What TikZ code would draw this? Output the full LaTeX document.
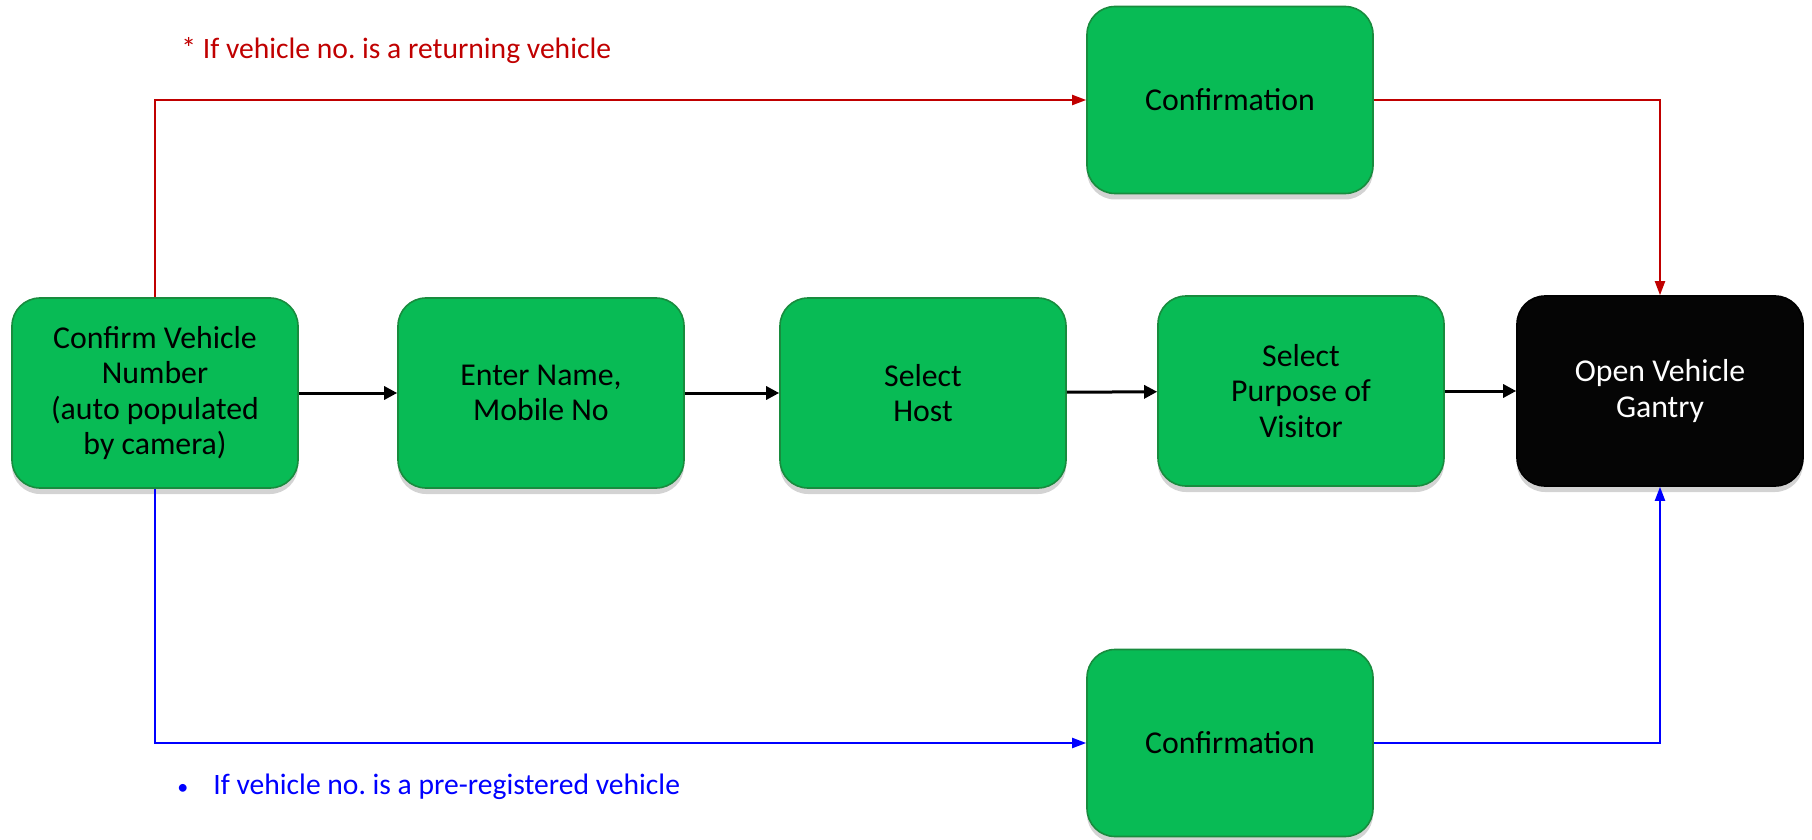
\documentclass[tikz,border=0pt]{standalone}
\usepackage{fontspec}
\setmainfont{Carlito}
\frenchspacing
\usetikzlibrary{arrows.meta,shadows}
\definecolor{boxgreen}{RGB}{8,187,85}
\definecolor{boxedge}{RGB}{24,140,62}
\definecolor{retred}{RGB}{192,0,0}
\definecolor{regblue}{RGB}{0,0,255}
\begin{document}
\begin{tikzpicture}
        [x=0.5pt, y=-0.5pt,
        box/.style={rectangle, rounded corners=14pt, fill=boxgreen, draw=boxedge, thick,
          minimum width=143pt, minimum height=95pt, align=center,
          font=\fontsize{15.9}{17.6}\selectfont,
          drop shadow={shadow xshift=0pt, shadow yshift=-3pt, opacity=0.35}},
        endbox/.style={box, fill=black!98, draw=black, text=white},
        flow/.style={line width=1.5pt, black, -{Triangle[length=6.5pt, width=6.5pt]}},
        returning/.style={line width=1pt, retred, -{Triangle[length=7pt, width=5pt]}},
        preregistered/.style={line width=1pt, regblue, -{Triangle[length=7pt, width=5pt]}},
        note/.style={anchor=west, inner sep=0pt, font=\fontsize{14.8}{17}\selectfont}]

        \useasboundingbox (0,0) rectangle (1812,840);

        \node[box] (cvn) at (155,393) {Confirm Vehicle\\Number\\(auto populated\\by camera)};
        \node[box] (name) at (541,393) {Enter Name,\\Mobile No};
        \node[box] (host) at (923,393) {Select\\Host};
        \node[box] (purpose) at (1301,391) {Select\\Purpose of\\Visitor};
        \node[endbox] (gantry) at (1660,391) {Open Vehicle\\Gantry};
        \node[box, minimum height=93.5pt] (conftop) at (1230,100) {Confirmation};
        \node[box, minimum height=93.5pt] (confbot) at (1230,743) {Confirmation};

        % Notes for the two side routes
        \node[note, text=retred] (retnote) at (181,51) {* If vehicle no. is a returning vehicle};
        \node[note, text=regblue] (regnote) at (177,787) {{\fontsize{11}{11}\selectfont\textbullet}\hspace{12.5pt}If vehicle no. is a pre-registered vehicle};

        % main flow (black arrows)
        \draw[flow] (cvn) -- (name);
        \draw[flow] (name) -- (host);
        \draw[flow] (host) -- (purpose);
        \draw[flow] (purpose) -- (gantry);

        % returning vehicle (red)
        \draw[returning] (cvn.north) |- (conftop.west);
        \draw[returning] (conftop.east) -| (gantry.north);

        % pre-registered vehicle (blue)
        \draw[preregistered] (cvn.south) |- (confbot.west);
        \draw[preregistered] (confbot.east) -| (gantry.south);

        \end{tikzpicture}
\end{document}
